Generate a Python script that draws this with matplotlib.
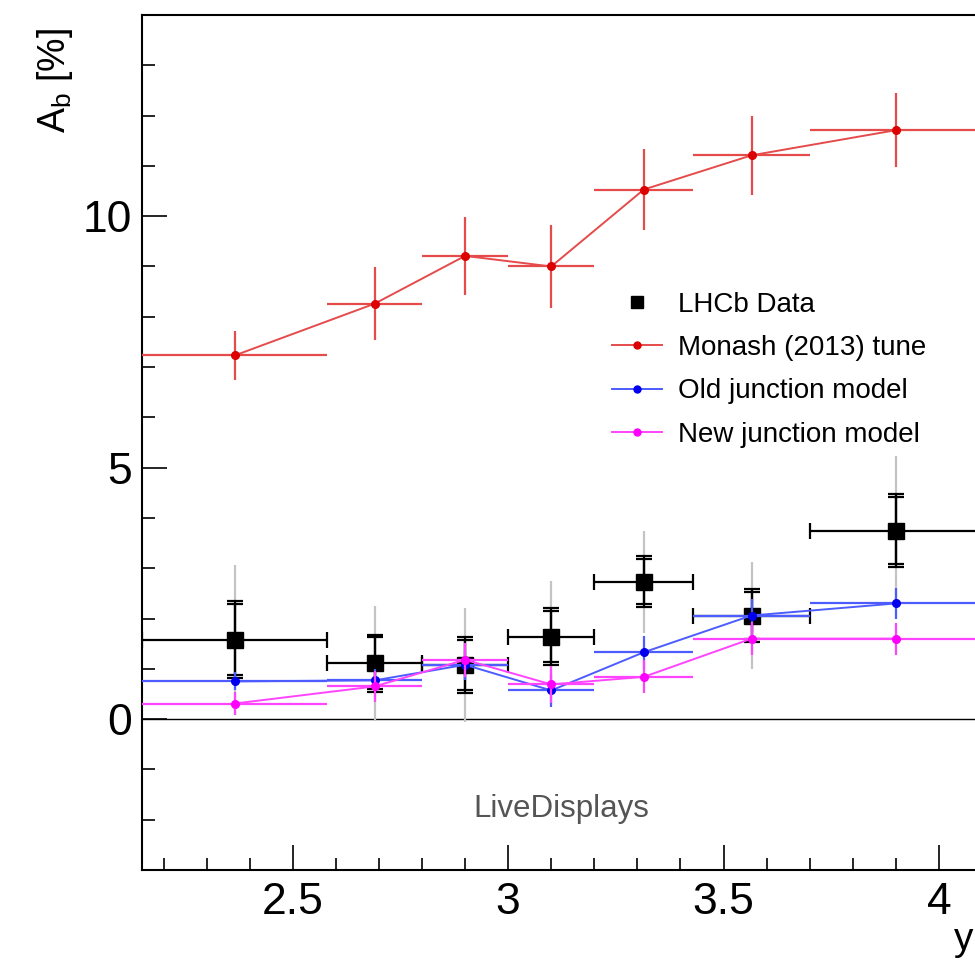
import numpy as np
import matplotlib
matplotlib.use("Agg")
import matplotlib.pyplot as plt
from matplotlib.ticker import MultipleLocator, FuncFormatter
from matplotlib.lines import Line2D

plt.rcParams['font.family'] = ['Liberation Sans', 'DejaVu Sans']

# ---- data ----
bin_edges = [2.15, 2.58, 2.80, 3.00, 3.20, 3.43, 3.70, 4.10]

lhcb = [1.58, 1.11, 1.08, 1.64, 2.73, 2.06, 3.75]
lhcb_err_a = [0.70, 0.52, 0.50, 0.50, 0.45, 0.47, 0.67]
lhcb_err_b = [0.76, 0.57, 0.56, 0.56, 0.51, 0.53, 0.73]
lhcb_err_gray = [1.49, 1.14, 1.13, 1.11, 1.02, 1.07, 1.49]

monash = [7.23, 8.26, 9.21, 9.00, 10.53, 11.21, 11.71]
monash_err = [0.49, 0.72, 0.78, 0.82, 0.80, 0.79, 0.73]

old_junction = [0.75, 0.77, 1.08, 0.57, 1.33, 2.06, 2.30]
old_err = [0.18, 0.22, 0.30, 0.33, 0.33, 0.32, 0.30]

new_junction = [0.31, 0.65, 1.18, 0.69, 0.84, 1.60, 1.60]
new_err = [0.23, 0.30, 0.34, 0.37, 0.33, 0.33, 0.32]

labels = ["LHCb Data", "Monash (2013) tune", "Old junction model", "New junction model"]

edges = np.array(bin_edges)
xc = 0.5 * (edges[:-1] + edges[1:])
xw = 0.5 * (edges[1:] - edges[:-1])

W, H = 975, 960
fig = plt.figure(figsize=(W / 100, H / 100), dpi=100)
ax = fig.add_axes([142 / W, 90 / H, 840 / W, 855 / H])
ax.set_xlim(2.15, 4.10)
ax.set_ylim(-3, 14)

ax.axhline(0, color='black', lw=1.0, zorder=1)

# LHCb data
ax.errorbar(xc, lhcb, yerr=lhcb_err_gray, fmt='none', ecolor='#c4c4c4', elinewidth=1.6, zorder=2)
ax.errorbar(xc, lhcb, yerr=lhcb_err_b, fmt='none', ecolor='black', elinewidth=1.6,
            capsize=6, capthick=1.6, zorder=3)
ax.errorbar(xc, lhcb, xerr=xw, yerr=lhcb_err_a, fmt='none', ecolor='black', elinewidth=1.6,
            capsize=6, capthick=1.6, zorder=3)
ax.plot(xc, lhcb, ls='none', marker='s', ms=11, color='black', zorder=4)

# models
models = [
    (monash, monash_err, '#e54b4b', '#dd0000'),
    (old_junction, old_err, '#4c5cff', '#0000ee'),
    (new_junction, new_err, '#ff44ff', '#ff00ff'),
]
for i, (vals, errs, lc, mc) in enumerate(models):
    z = 5 + i
    ax.errorbar(xc, vals, xerr=xw, yerr=errs, fmt='none', ecolor=lc, elinewidth=1.6, zorder=z)
    ax.plot(xc, vals, color=lc, lw=1.4, marker='o', ms=5.5, mfc=mc, mec=mc, zorder=z)

# legend proxies
handles = [Line2D([], [], ls='none', marker='s', ms=8.5, color='black')]
for vals, errs, lc, mc in models:
    handles.append(Line2D([], [], color=lc, lw=1.4, marker='o', ms=5, mfc=mc, mec=mc))
leg = ax.legend(handles, labels, loc='upper left', bbox_to_anchor=(612 / W, 1 - 292 / H),
                bbox_transform=fig.transFigure, frameon=False, fontsize=20,
                handlelength=1.8, handletextpad=0.58, labelspacing=0.62, borderpad=0,
                borderaxespad=0)

# axes styling
for s in ['left', 'bottom', 'top']:
    ax.spines[s].set_linewidth(1.5)
ax.spines['right'].set_visible(False)

ax.xaxis.set_major_locator(MultipleLocator(0.5))
ax.xaxis.set_minor_locator(MultipleLocator(0.1))
ax.yaxis.set_major_locator(MultipleLocator(5))
ax.yaxis.set_minor_locator(MultipleLocator(1))
ax.xaxis.set_major_formatter(FuncFormatter(lambda v, p: f"{v:g}"))
ax.tick_params(axis='both', which='major', direction='in', length=18, width=1.2, labelsize=32)
ax.tick_params(axis='both', which='minor', direction='in', length=9, width=1.2)
ax.tick_params(axis='x', which='major', pad=9)
ax.tick_params(axis='y', which='major', pad=7)
ax.tick_params(top=False, right=False, which='both')

ax.text(-0.103, 0.985, r"A$_\mathregular{b}$ [%]", transform=ax.transAxes, rotation=90,
        ha='center', va='top', fontsize=27)
ax.text(973 / W, 1 - 950 / H, "y", transform=fig.transFigure, ha='right', va='baseline', fontsize=28)
ax.text(561 / W, 1 - 817 / H, "LiveDisplays", transform=fig.transFigure, ha='center',
        va='baseline', fontsize=22.5, color='#555555')

fig.savefig("out.png", dpi=100)
